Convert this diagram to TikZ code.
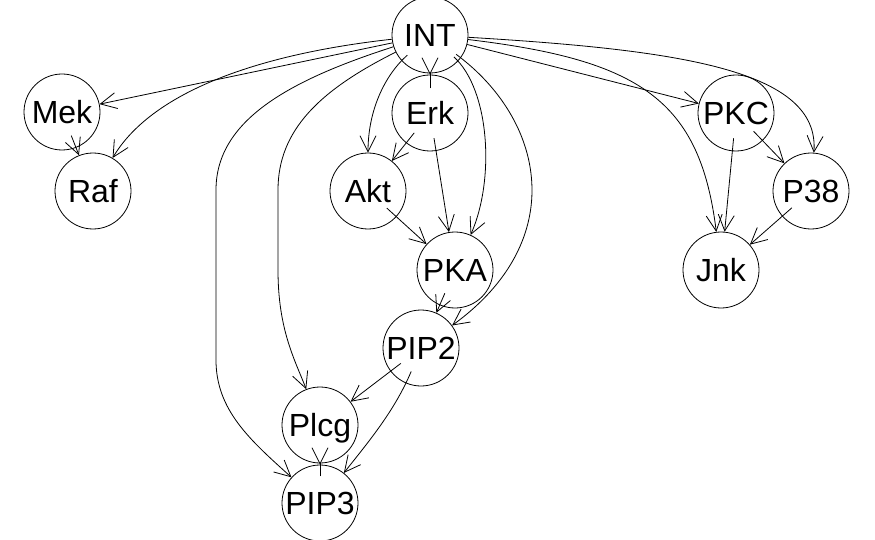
\documentclass[tikz,border=0pt]{standalone}
\usepackage{fontspec}
\setmainfont{Liberation Sans}
\usetikzlibrary{arrows.meta}
\begin{document}
\begin{tikzpicture}[x=1pt,y=-1pt,
  nd/.style={draw,circle,line width=0.8pt,minimum size=76pt,inner sep=0pt,
    font=\fontsize{32}{32}\selectfont,text height=23pt,text depth=0pt},
  ar/.style={line width=0.8pt,-{Straight Barb[length=16pt,width=16pt,line width=0.8pt]}},
  ins/.style={shorten <=-13pt}]
\useasboundingbox (0,0) rectangle (875,540);
\node[nd] (INT) at (430,35) {INT};
\node[nd] (Mek) at (62,112) {Mek};
\node[nd] (Raf) at (93,191) {Raf};
\node[nd] (Erk) at (430,113) {Erk};
\node[nd] (Akt) at (368,191) {Akt};
\node[nd] (PKA) at (455,270) {PKA};
\node[nd] (PIP2) at (421,348) {PIP2};
\node[nd] (Plcg) at (320,425) {Plcg};
\node[nd] (PIP3) at (320,503) {PIP3};
\node[nd] (PKC) at (736,113) {PKC};
\node[nd] (P38) at (811,191) {P38};
\node[nd] (Jnk) at (721,270) {Jnk};
% edges from INT
\draw[ar] (INT) -- (Mek);
\draw[ar] (INT) .. controls (250,55) and (150,95) .. (Raf);
\draw[ar] (INT) .. controls (290,80) and (216,120) .. (216,190) -- (216,360) .. controls (216,410) and (250,440) .. (PIP3);
\draw[ar] (INT) .. controls (320,90) and (278,130) .. (278,190) -- (278,270) .. controls (278,330) and (295,360) .. (Plcg);
\draw[ar,shorten <=-8pt] (INT) .. controls (385,75) and (368,110) .. (Akt);
\draw[ar,shorten <=-15pt] (INT) -- (Erk);
\draw[ar,shorten <=-6pt] (INT) .. controls (490,90) and (495,180) .. (PKA);
\draw[ar,shorten <=-6pt] (INT) .. controls (545,120) and (570,240) .. (PIP2);
\draw[ar] (INT) -- (PKC);
\draw[ar] (INT) .. controls (680,50) and (820,70) .. (P38);
\draw[ar] (INT) .. controls (640,60) and (700,100) .. (Jnk);
% other edges
\draw[ar,ins] (Mek) -- (Raf);
\draw[ar,ins] (Erk) -- (Akt);
\draw[ar,ins] (Erk) -- (PKA);
\draw[ar,ins] (Akt) -- (PKA);
\draw[ar,ins] (PKA) -- (PIP2);
\draw[ar,ins] (PIP2) -- (Plcg);
\draw[ar,ins] (PIP2) .. controls (395,410) and (370,440) .. (PIP3);
\draw[ar,ins] (Plcg) -- (PIP3);
\draw[ar,ins] (PKC) -- (Jnk);
\draw[ar,ins] (PKC) -- (P38);
\draw[ar,ins] (P38) -- (Jnk);
\end{tikzpicture}
\end{document}
